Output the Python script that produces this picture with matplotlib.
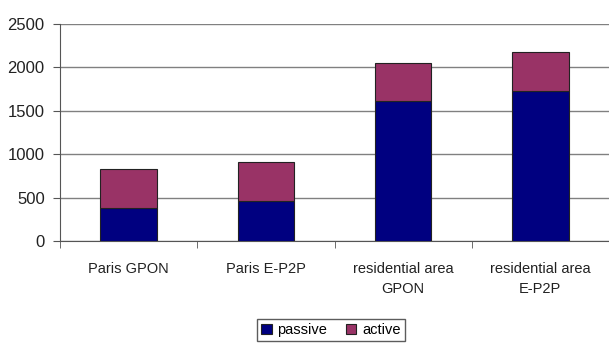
import numpy as np
import matplotlib.pyplot as plt

plt.rcParams['font.family'] = ['Liberation Sans', 'DejaVu Sans']

categories = ['Paris GPON', 'Paris E-P2P', 'residential area\nGPON', 'residential area\nE-P2P']
passive = [385, 460, 1615, 1725]
active = [450, 450, 435, 455]

fig = plt.figure(figsize=(6.09, 3.45), dpi=100)
ax = fig.add_axes([60/609, 1-241/345, 1-60/609, (241-24)/345])

x = np.arange(len(categories))
w = 0.41
ax.bar(x, passive, w, color='#000080', edgecolor='#222222', lw=0.8, label='passive', zorder=3)
ax.bar(x, active, w, bottom=passive, color='#993366', edgecolor='#222222', lw=0.8, label='active', zorder=3)

ax.set_xlim(-0.5, 3.5)
ax.set_ylim(0, 2500)
ax.set_yticks(np.arange(0, 2501, 500))
ax.yaxis.grid(True, color='#808080', lw=1)
ax.set_axisbelow(True)

ax.set_xticks(x)
ax.set_xticklabels(categories, fontsize=10.5, color='#222222', linespacing=1.55)
ax.set_xticks(np.arange(-0.5, 4, 1), minor=True)
ax.tick_params(axis='x', which='major', length=0, pad=15)
ax.tick_params(axis='x', which='minor', length=5, color='#555555')
ax.tick_params(axis='y', length=5, color='#555555', labelsize=12, labelcolor='#222222', pad=6)

for s in ['top', 'right']:
    ax.spines[s].set_visible(False)
for s in ['left', 'bottom']:
    ax.spines[s].set_color('#555555')

leg = fig.legend(loc='center', bbox_to_anchor=(331/609, 1-330/345), ncol=2, fontsize=10.5,
                 frameon=True, fancybox=False, edgecolor='#333333', handlelength=0.7, handleheight=0.7,
                 handletextpad=0.4, columnspacing=1.3, borderpad=0.3, borderaxespad=0.3)

plt.savefig('out.png', dpi=100)
